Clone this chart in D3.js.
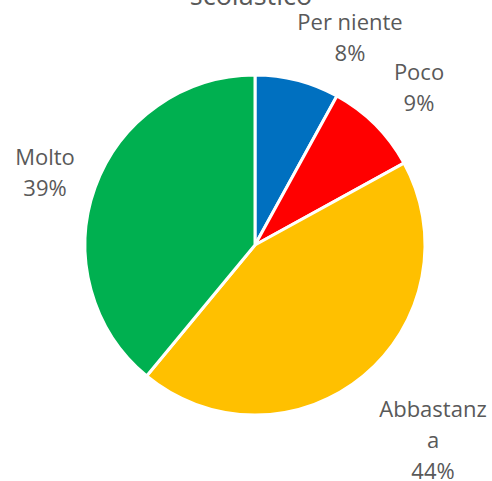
<!DOCTYPE html>
<html lang="it">
<head>
<meta charset="UTF-8">
<style>
  body { margin: 0; background: #fff; }
  svg { display: block; }
  text { font-family: "Open Sans", "Liberation Sans", sans-serif; fill: #595959; }
</style>
</head>
<body>
<div id="chart"></div>
<script src="https://d3js.org/d3.v7.min.js"></script>
<script>
// data
const categories = ["Per niente", "Poco", "Abbastanza", "Molto"];
const percents = [8, 9, 44, 39];
const colors = ["#0070C0", "#FF0000", "#FFC000", "#00B050"];
// label lines as shown (Abbastanza wraps)
const labelLines = [["Per niente", "8%"], ["Poco", "9%"], ["Abbastanz", "a", "44%"], ["Molto", "39%"]];
const labelPos = [[350, 22], [419, 72], [433, 409], [45, 157]];

const width = 492, height = 481;
const cx = 255, cy = 245, radius = 170;

const svg = d3.select("#chart").append("svg")
    .attr("width", width)
    .attr("height", height);

// title, mostly cut off at top
svg.append("text")
    .attr("x", 251)
    .attr("y", 5)
    .attr("text-anchor", "middle")
    .style("font-size", "27px")
    .text("scolastico");

const data = categories.map((c, i) => ({ name: c, value: percents[i], color: colors[i] }));

const pie = d3.pie().sort(null).value(d => d.value);
const arc = d3.arc().innerRadius(0).outerRadius(radius);

const g = svg.append("g").attr("transform", `translate(${cx},${cy})`);

g.selectAll("path")
    .data(pie(data))
    .enter()
    .append("path")
    .attr("d", arc)
    .attr("fill", d => d.data.color)
    .attr("stroke", "#fff")
    .attr("stroke-width", 3)
    .attr("stroke-linejoin", "round");

// labels
labelLines.forEach((lines, i) => {
    const t = svg.append("text")
        .attr("text-anchor", "middle")
        .style("font-size", "22px");
    lines.forEach((ln, j) => {
        t.append("tspan")
            .attr("x", labelPos[i][0])
            .attr("y", labelPos[i][1] + j * 31)
            .attr("dy", "0.35em")
            .text(ln);
    });
});
</script>
</body>
</html>
